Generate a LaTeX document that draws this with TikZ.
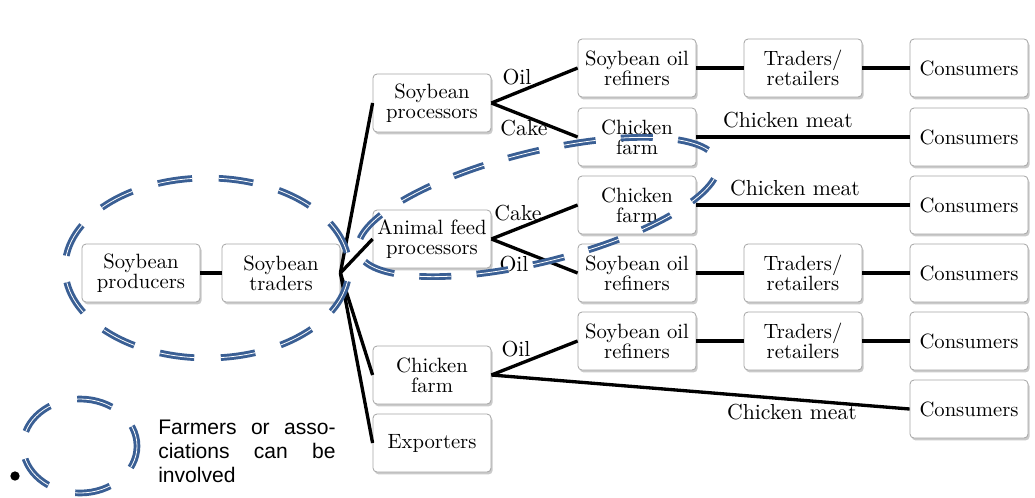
\documentclass[tikz,border=0pt]{standalone}
\usepackage{fontspec}
\setmainfont{lmroman10-regular.otf}
\newfontfamily\legendfont{Liberation Sans}
\usetikzlibrary{shadows}
\definecolor{ringblue}{RGB}{58,95,148}
\definecolor{boxedge}{RGB}{165,165,165}

\begin{document}
\begin{tikzpicture}[x=0.75pt,y=-0.75pt,
  box/.style={draw=boxedge, line width=0.6pt, rounded corners=3pt, fill=white,
    minimum width=88.5pt, minimum height=43.5pt, align=center, inner sep=1pt,
    font=\fontsize{15.5}{15}\selectfont,
    drop shadow={shadow xshift=1.2pt, shadow yshift=-1.8pt, opacity=0.35, fill=black!60}},
  link/.style={line width=2.5pt, black},
  lbl/.style={font=\fontsize{16.3}{16}\selectfont, inner sep=0pt},
  ring/.style={draw=ringblue, double=white, double distance=0.6pt, line width=2.2pt}
]
\useasboundingbox (0,0) rectangle (1035,497);

% chain start
\node[box] (prod) at (141,273) {Soybean\\producers};
\node[box] (trad) at (281,273) {Soybean\\traders};

% first-stage buyers
\node[box] (proc) at (432,103) {Soybean\\processors};
\node[box] (feed) at (432,239) {Animal feed\\processors};
\node[box] (farmL) at (432,375) {Chicken\\farm};
\node[box] (expo) at (432,443) {Exporters};

% second stage
\node[box] (ref1) at (637,68) {Soybean oil\\refiners};
\node[box] (cf1) at (637,137) {Chicken\\farm};
\node[box] (cf2) at (637,205) {Chicken\\farm};
\node[box] (ref2) at (637,273) {Soybean oil\\refiners};
\node[box] (ref3) at (637,341) {Soybean oil\\refiners};

% retail
\node[box] (tr1) at (803,68) {Traders/\\retailers};
\node[box] (tr2) at (803,273) {Traders/\\retailers};
\node[box] (tr3) at (803,341) {Traders/\\retailers};

% end consumers
\node[box] (con1) at (969,68) {Consumers};
\node[box] (con2) at (969,137) {Consumers};
\node[box] (con3) at (969,205) {Consumers};
\node[box] (con4) at (969,273) {Consumers};
\node[box] (con5) at (969,341) {Consumers};
\node[box] (con6) at (969,409) {Consumers};

% connectors
\draw[link] (prod.east) -- (trad.west);
\draw[link] (trad.east) -- (proc.west);
\draw[link] (trad.east) -- (feed.west);
\draw[link] (trad.east) -- (farmL.west);
\draw[link] (trad.east) -- (expo.west);

\draw[link] (proc.east) -- (ref1.west);
\draw[link] (proc.east) -- (cf1.west);
\draw[link] (feed.east) -- (cf2.west);
\draw[link] (feed.east) -- (ref2.west);
\draw[link] (farmL.east) -- (ref3.west);
\draw[link] (farmL.east) -- (con6.west);

\draw[link] (ref1.east) -- (tr1.west);
\draw[link] (tr1.east) -- (con1.west);
\draw[link] (cf1.east) -- (con2.west);
\draw[link] (cf2.east) -- (con3.west);
\draw[link] (ref2.east) -- (tr2.west);
\draw[link] (tr2.east) -- (con4.west);
\draw[link] (ref3.east) -- (tr3.west);
\draw[link] (tr3.east) -- (con5.west);

% product labels
\node[lbl] (l1) at (517,77) {Oil};
\node[lbl] (l2) at (524,128) {Cake};
\node[lbl] (l3) at (518,213) {Cake};
\node[lbl] (l4) at (514,264) {Oil};
\node[lbl] (l5) at (516,349) {Oil};
\node[lbl] (l6) at (788,120) {Chicken meat};
\node[lbl] (l7) at (795,188) {Chicken meat};
\node[lbl] (l8) at (792,412) {Chicken meat};

% groups where farmers or associations take part
\draw[ring, dash pattern=on 26pt off 20pt, dash phase=36pt]
  (207,268) ellipse [x radius=142, y radius=90];
\draw[ring, dash pattern=on 24pt off 19pt, dash phase=30pt, rotate around={14:(538,207)}]
  (538,207) ellipse [x radius=185, y radius=55];

% legend
\node[circle, fill=black, inner sep=0pt, minimum size=7pt] (bullet) at (15,476) {};
\draw[ring, dash pattern=on 27pt off 21pt, dash phase=10pt]
  (80,446) ellipse [x radius=57, y radius=47];
\node[anchor=base west, text width=133pt, inner sep=0pt, align=justify,
  font=\legendfont\fontsize{15.8}{18}\selectfont] (legend) at (158,434)
  {Farmers\hfill or\hfill asso-\\ciations\hfill can\hfill be\\involved};
\end{tikzpicture}
\end{document}
